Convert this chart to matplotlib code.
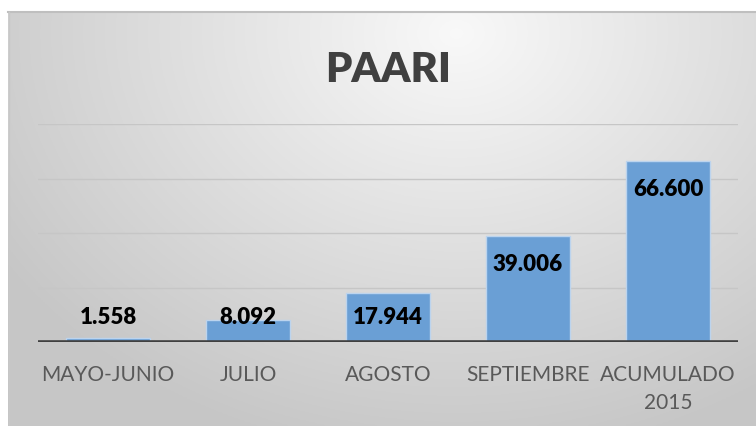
import numpy as np
import matplotlib.pyplot as plt
from matplotlib.lines import Line2D

# datos
meses = ["MAYO-JUNIO", "JULIO", "AGOSTO", "SEPTIEMBRE", "ACUMULADO\n2015"]
valores = [1558, 8092, 17944, 39006, 66600]
titulo = "PAARI"

plt.rcParams['font.family'] = ['Lato', 'DejaVu Sans']

W, H = 756, 427
fig = plt.figure(figsize=(W / 100, H / 100), dpi=100, facecolor='white')

# fondo con degradado
bg = fig.add_axes([8 / W, 0, (W - 8) / W, (H - 13) / H], zorder=-2)
xx, yy = np.meshgrid(np.linspace(0, 1, 300), np.linspace(0, 1, 200))
d = np.sqrt(((xx - 0.6) / 0.7) ** 2 + ((yy - 0.05) / 1.0) ** 2)
g = np.clip(0.975 - 0.19 * d, 0.78, 1)
bg.imshow(np.dstack([g, g, g]), aspect='auto', extent=[0, 1, 1, 0])
bg.axis('off')
fig.add_artist(Line2D([8 / W, 1], [1 - 12.5 / H] * 2, color='#bfbfbf', lw=1.5,
                      transform=fig.transFigure))
fig.add_artist(Line2D([8.5 / W] * 2, [0, 1 - 12.5 / H], color='#c8c8c8', lw=1,
                      transform=fig.transFigure))

ax = fig.add_axes([38 / W, (H - 343) / H, 700 / W, (343 - 125) / H])
ax.patch.set_visible(False)
x = np.arange(len(meses))
ax.bar(x, valores, width=0.6, color='#6a9fd5', edgecolor='#bcd4ee', linewidth=1, zorder=3)
ax.set_xlim(-0.5, len(meses) - 0.5)
ax.set_ylim(0, 80000)

for yv in [20000, 40000, 60000, 80000]:
    ax.axhline(yv, color='#c6c6c6', lw=1, zorder=1)
ax.axhline(0, color='#404040', lw=2.6, zorder=4)

for s in ax.spines.values():
    s.set_visible(False)
ax.set_yticks([])
ax.set_xticks([])

for i, v in enumerate(valores):
    ax.text(i, max(v - 10200, 9200), f"{v:,}".replace(",", "."), ha='center', va='center',
            fontsize=16, fontweight='heavy', color='black', zorder=5)
    ax.annotate(meses[i], xy=(i, 0), xycoords='data', xytext=(0, -22),
                textcoords='offset pixels', ha='center', va='top', fontsize=15,
                color='#595959', linespacing=1.5)

fig.text(388 / W, 1 - 70 / H, titulo, ha='center', va='center', fontsize=30,
         fontweight='heavy', color='#404040')

fig.savefig("out.png", dpi=100)
